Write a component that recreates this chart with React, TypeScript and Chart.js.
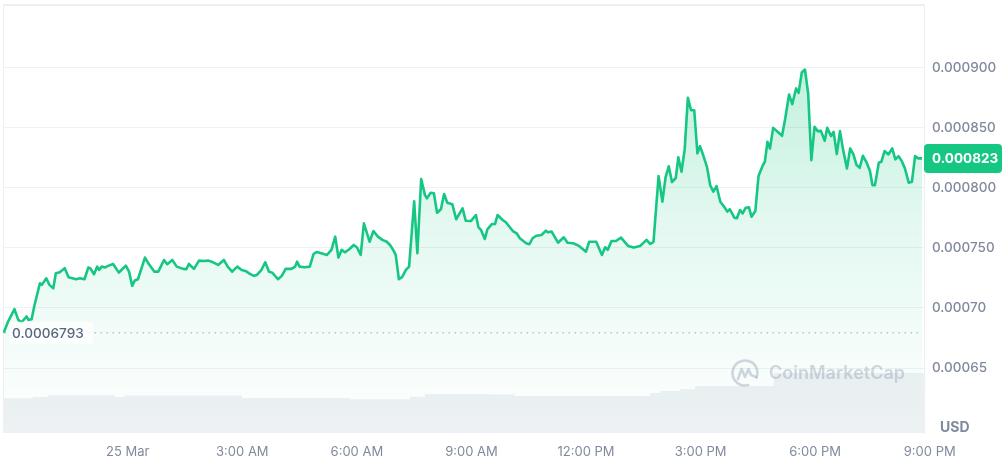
import React, { useEffect, useRef } from 'react';
import { Chart, registerables } from 'chart.js';

Chart.register(...registerables);

// minutes relative to 25 Mar 00:00
const PRICE_TIMES = [
  -195, -188, -178, -172, -167, -159, -156, -151, -147, -138, -135, -128, -123, -117, -113, -107, -99, -93, -81, -75,
  -68, -62, -59, -53, -48, -45, -41, -36, -31, -23, -14, -10, -3, 2, 7, 11, 16, 27, 33, 42,
  48, 57, 62, 70, 77, 87, 92, 96, 104, 112, 119, 127, 134, 142, 151, 157, 164, 172, 179, 185,
  192, 198, 203, 210, 216, 222, 227, 236, 242, 248, 257, 263, 266, 270, 278, 286, 292, 297, 304, 313,
  320, 326, 331, 336, 341, 348, 355, 360, 366, 371, 380, 386, 393, 400, 407, 412, 417, 421, 426, 431,
  437, 442, 450, 455, 461, 467, 470, 476, 481, 486, 492, 497, 502, 510, 516, 526, 531, 539, 547, 551,
  555, 561, 565, 572, 577, 581, 589, 594, 605, 611, 616, 626, 631, 636, 642, 650, 657, 660, 666, 676,
  685, 691, 700, 709, 720, 725, 736, 745, 750, 754, 760, 767, 775, 786, 795, 805, 815, 821, 826, 834,
  840, 845, 850, 855, 861, 865, 870, 875, 880, 885, 890, 895, 899, 904, 910, 915, 920, 925, 931, 937,
  942, 946, 953, 957, 962, 966, 971, 976, 980, 986, 991, 998, 1001, 1005, 1009, 1014, 1021, 1028, 1033, 1039,
  1044, 1050, 1054, 1059, 1064, 1069, 1074, 1079, 1084, 1089, 1095, 1099, 1105, 1109, 1114, 1119, 1124, 1130, 1135, 1140,
  1145, 1150, 1155, 1161, 1166, 1170, 1174, 1180, 1184, 1189, 1195, 1201, 1206, 1211, 1216, 1221, 1227, 1232, 1237, 1242,
  1248,
];

const PRICE_VALUES = [
  0.0006793, 0.0006887, 0.000699, 0.0006901, 0.000688, 0.0006929, 0.0006901, 0.0006907, 0.0007012, 0.0007206,
  0.0007192, 0.0007247, 0.0007192, 0.0007164, 0.0007289, 0.0007297, 0.0007331, 0.0007256, 0.0007239, 0.0007247,
  0.0007239, 0.0007336, 0.0007331, 0.0007281, 0.0007344, 0.0007316, 0.0007344, 0.0007336, 0.000735, 0.0007366,
  0.0007294, 0.0007316, 0.0007352, 0.0007302, 0.0007184, 0.0007228, 0.0007239, 0.0007419, 0.0007366, 0.0007302,
  0.0007302, 0.0007399, 0.0007364, 0.0007399, 0.0007344, 0.0007325, 0.0007322, 0.0007366, 0.0007325, 0.0007394,
  0.0007391, 0.0007394, 0.000738, 0.0007358, 0.0007399, 0.0007344, 0.0007302, 0.0007344, 0.0007316, 0.0007308,
  0.0007283, 0.0007267, 0.0007275, 0.0007316, 0.000738, 0.0007302, 0.0007294, 0.0007239, 0.0007267, 0.0007325,
  0.0007325, 0.0007344, 0.0007385, 0.0007344, 0.0007339, 0.0007344, 0.0007449, 0.0007466, 0.0007455, 0.0007441,
  0.0007483, 0.0007593, 0.0007419, 0.0007483, 0.0007463, 0.0007488, 0.0007524, 0.0007505, 0.0007441, 0.0007704,
  0.0007551, 0.000764, 0.0007593, 0.0007566, 0.0007551, 0.0007524, 0.0007483, 0.0007441, 0.0007239, 0.0007256,
  0.0007316, 0.0007344, 0.0007887, 0.0007455, 0.0008072, 0.0007939, 0.0007912, 0.0007958, 0.0007953, 0.0007792,
  0.0007821, 0.0007948, 0.0007875, 0.0007862, 0.0007738, 0.0007829, 0.0007726, 0.0007723, 0.0007773, 0.0007671,
  0.0007649, 0.0007574, 0.0007654, 0.0007698, 0.0007698, 0.0007773, 0.0007732, 0.0007713, 0.000764, 0.0007621,
  0.000758, 0.0007538, 0.000753, 0.000758, 0.0007601, 0.0007607, 0.0007643, 0.000763, 0.0007635, 0.0007543,
  0.0007588, 0.0007543, 0.0007538, 0.0007516, 0.0007468, 0.0007551, 0.0007551, 0.0007441, 0.0007505, 0.0007483,
  0.0007557, 0.0007557, 0.0007585, 0.0007516, 0.0007502, 0.0007516, 0.0007566, 0.0007532, 0.0007549, 0.0008097,
  0.0007884, 0.0008089, 0.0008178, 0.0008047, 0.0008081, 0.0008253, 0.0008133, 0.0008319, 0.0008748, 0.0008645,
  0.0008645, 0.0008286, 0.0008346, 0.0008272, 0.0008174, 0.0008022, 0.0007967, 0.0008014, 0.0007884, 0.0007842,
  0.0007801, 0.0007821, 0.0007751, 0.0007746, 0.0007815, 0.0007787, 0.0007834, 0.0007837, 0.0007759, 0.0007806,
  0.0008097, 0.0008189, 0.0008216, 0.0008382, 0.0008327, 0.0008498, 0.0008465, 0.0008432, 0.0008576, 0.0008776,
  0.0008695, 0.0008826, 0.0008789, 0.0008959, 0.0008983, 0.0008784, 0.000823, 0.0008507, 0.0008471, 0.0008473,
  0.000839, 0.0008498, 0.0008429, 0.0008465, 0.000828, 0.0008471, 0.0008313, 0.0008161, 0.0008327, 0.000828,
  0.0008189, 0.0008166, 0.0008266, 0.0008208, 0.0008141, 0.0008022, 0.0008022, 0.0008208, 0.0008216, 0.0008305,
  0.0008277, 0.0008327, 0.0008236, 0.0008263, 0.0008222, 0.0008161, 0.0008042, 0.000805, 0.0008263, 0.0008244,
  0.0008244,
];

const VOLUME_TIMES = [-196, -149, -126, -20, -5, 179, 349, 443, 467, 569, 608, 821, 836, 868, 891, 993, 1015, 1251];
const VOLUME_VALUES = [34.7, 36, 37.7, 36, 37.5, 35, 33.7, 36.3, 39, 38.5, 37, 40, 42, 44, 47, 47, 60, 60];

const X_TICK_TIMES = [0, 180, 360, 540, 720, 900, 1080, 1260];
const X_TICK_LABELS = ['25 Mar', '3:00 AM', '6:00 AM', '9:00 AM', '12:00 PM', '3:00 PM', '6:00 PM', '9:00 PM'];
const Y_TICK_VALUES = [0.00065, 0.0007, 0.00075, 0.0008, 0.00085, 0.0009];
const Y_TICK_LABELS = ['0.00065', '0.00070', '0.000750', '0.000800', '0.000850', '0.000900'];
const OPEN_PRICE = 0.0006793;
const OPEN_LABEL = '0.0006793';
const CURRENT_LABEL = '0.000823';
const CURRENCY = 'USD';
const WATERMARK = 'CoinMarketCap';

const FONT = 'Inter, "Noto Sans", sans-serif';
const GREEN = '#16c784';
const GRAY_TEXT = '#808a9d';

const overlayPlugin = {
  id: 'cmcOverlay',
  beforeDatasetsDraw(chart: any) {
    const { ctx, chartArea } = chart;
    const { left, top, right, bottom } = chartArea;
    ctx.save();
    ctx.strokeStyle = '#eceff2';
    ctx.lineWidth = 1;
    ctx.beginPath();
    ctx.moveTo(left + 0.5, top);
    ctx.lineTo(left + 0.5, bottom);
    ctx.stroke();
    ctx.lineWidth = 2;
    ctx.beginPath();
    ctx.moveTo(left, top);
    ctx.lineTo(right, top);
    ctx.stroke();
    ctx.restore();
  },
  afterDatasetsDraw(chart: any) {
    const { ctx, chartArea, scales } = chart;
    const { left, right, bottom } = chartArea;
    ctx.save();

    // watermark
    const wy = bottom - 60;
    ctx.fillStyle = 'rgba(150,160,180,0.42)';
    ctx.strokeStyle = 'rgba(150,160,180,0.42)';
    ctx.font = `600 18px ${FONT}`;
    ctx.textAlign = 'right';
    ctx.textBaseline = 'middle';
    ctx.fillText(WATERMARK, right - 19, wy + 1);
    const cx = right - 179;
    ctx.lineWidth = 2.6;
    ctx.lineCap = 'round';
    ctx.lineJoin = 'round';
    ctx.beginPath();
    ctx.arc(cx, wy, 12.5, Math.PI * 0.42, Math.PI * 2.12);
    ctx.stroke();
    ctx.beginPath();
    ctx.moveTo(cx - 7, wy + 6);
    ctx.lineTo(cx - 3.5, wy - 4);
    ctx.lineTo(cx, wy + 4);
    ctx.lineTo(cx + 3.5, wy - 4);
    ctx.lineTo(cx + 6, wy + 2);
    ctx.lineTo(cx + 11, wy + 4);
    ctx.stroke();

    // open price dotted line
    const oy = scales.y.getPixelForValue(OPEN_PRICE);
    ctx.strokeStyle = '#a6b0c3';
    ctx.lineWidth = 1.3;
    ctx.lineCap = 'round';
    ctx.setLineDash([0.5, 5.5]);
    ctx.beginPath();
    ctx.moveTo(left + 2, oy);
    ctx.lineTo(right - 2, oy);
    ctx.stroke();
    ctx.setLineDash([]);
    ctx.fillStyle = 'rgba(255,255,255,0.8)';
    ctx.fillRect(left + 6, oy - 11, 84, 22);
    ctx.fillStyle = '#58667e';
    ctx.font = `500 13.6px ${FONT}`;
    ctx.textAlign = 'left';
    ctx.fillText(OPEN_LABEL, left + 9, oy + 1);

    // current price box
    const last = PRICE_VALUES[PRICE_VALUES.length - 1];
    const py = scales.y.getPixelForValue(last);
    const bx = right;
    const bw = 78;
    const bh = 29;
    const r = 4;
    ctx.fillStyle = GREEN;
    ctx.beginPath();
    ctx.moveTo(bx, py - bh / 2);
    ctx.lineTo(bx + bw - r, py - bh / 2);
    ctx.arcTo(bx + bw, py - bh / 2, bx + bw, py - bh / 2 + r, r);
    ctx.lineTo(bx + bw, py + bh / 2 - r);
    ctx.arcTo(bx + bw, py + bh / 2, bx + bw - r, py + bh / 2, r);
    ctx.lineTo(bx + r, py + bh / 2);
    ctx.arcTo(bx, py + bh / 2, bx, py + bh / 2 - r, r);
    ctx.lineTo(bx, py - bh / 2 + r);
    ctx.arcTo(bx, py - bh / 2, bx + r, py - bh / 2, r);
    ctx.closePath();
    ctx.fill();
    ctx.fillStyle = '#ffffff';
    ctx.font = `700 13.5px ${FONT}`;
    ctx.textAlign = 'left';
    ctx.textBaseline = 'middle';
    ctx.fillText(CURRENT_LABEL, bx + 8, py + 1);
    ctx.restore();
  },
  afterDraw(chart: any) {
    const { ctx, chartArea, scales } = chart;
    ctx.save();
    ctx.fillStyle = GRAY_TEXT;
    ctx.font = `400 13px ${FONT}`;
    ctx.textAlign = 'center';
    ctx.textBaseline = 'middle';
    X_TICK_TIMES.forEach((t, i) => {
      ctx.fillText(X_TICK_LABELS[i], scales.x.getPixelForValue(t), chartArea.bottom + 19);
    });
    ctx.font = `700 14px ${FONT}`;
    ctx.textAlign = 'left';
    ctx.fillText(CURRENCY, chartArea.right + 16, chartArea.bottom - 5);
    ctx.restore();
  },
};

export default function App() {
  const ref = useRef<HTMLCanvasElement | null>(null);

  useEffect(() => {
    document.body.style.margin = '0';
    const canvas = ref.current;
    if (!canvas) return;
    const priceData = PRICE_TIMES.map((t, i) => ({ x: t, y: PRICE_VALUES[i] }));
    const volumeData = VOLUME_TIMES.map((t, i) => ({ x: t, y: VOLUME_VALUES[i] }));

    const chart = new Chart(canvas, {
      type: 'line',
      data: {
        datasets: [
          {
            label: 'Price',
            data: priceData,
            yAxisID: 'y',
            borderColor: GREEN,
            borderWidth: 2.6,
            borderJoinStyle: 'round',
            pointRadius: 0,
            tension: 0,
            fill: 'start',
            order: 1,
            backgroundColor: (c: any) => {
              const ch = c.chart;
              const ca = ch.chartArea;
              if (!ca) return 'rgba(22,199,132,0.12)';
              const g = ch.ctx.createLinearGradient(0, ca.top, 0, ca.bottom);
              g.addColorStop(0, 'rgba(22,199,132,0.32)');
              g.addColorStop(0.5, 'rgba(22,199,132,0.12)');
              g.addColorStop(1, 'rgba(22,199,132,0.0)');
              return g;
            },
          },
          {
            label: 'Volume',
            data: volumeData,
            yAxisID: 'yv',
            stepped: true,
            borderWidth: 0,
            borderColor: 'rgba(0,0,0,0)',
            backgroundColor: '#eef1f4',
            pointRadius: 0,
            fill: 'origin',
            order: 2,
          },
        ],
      },
      options: {
        animation: false,
        responsive: false,
        maintainAspectRatio: false,
        layout: { padding: { left: 3, top: 5, right: 0, bottom: 0 } },
        plugins: { legend: { display: false }, tooltip: { enabled: false } },
        scales: {
          x: {
            type: 'linear',
            min: -196,
            max: 1251,
            grid: { display: false },
            border: { display: false },
            ticks: { display: false },
            afterFit: (s: any) => {
              s.height = 39;
              s.paddingLeft = 0;
              s.paddingRight = 0;
            },
          },
          y: {
            type: 'linear',
            position: 'right',
            min: 0.000596,
            max: 0.000952,
            grid: { color: '#eff1f4', drawTicks: false },
            border: { display: true, color: '#eceff2' },
            afterBuildTicks: (s: any) => {
              s.ticks = Y_TICK_VALUES.map((v) => ({ value: v }));
            },
            ticks: {
              padding: 8,
              color: GRAY_TEXT,
              font: { family: FONT, size: 13.5, weight: '500' },
              callback: (v: any) => {
                const i = Y_TICK_VALUES.findIndex((t) => Math.abs(t - v) < 1e-9);
                return i >= 0 ? Y_TICK_LABELS[i] : '';
              },
            },
            afterFit: (s: any) => {
              s.width = 82;
              s.paddingTop = 0;
              s.paddingBottom = 0;
            },
          },
          yv: {
            type: 'linear',
            display: false,
            min: 0,
            max: 428,
          },
        },
      },
      plugins: [overlayPlugin],
    } as any);

    return () => chart.destroy();
  }, []);

  return <canvas ref={ref} width={1006} height={472} style={{ display: 'block' }} />;
}
